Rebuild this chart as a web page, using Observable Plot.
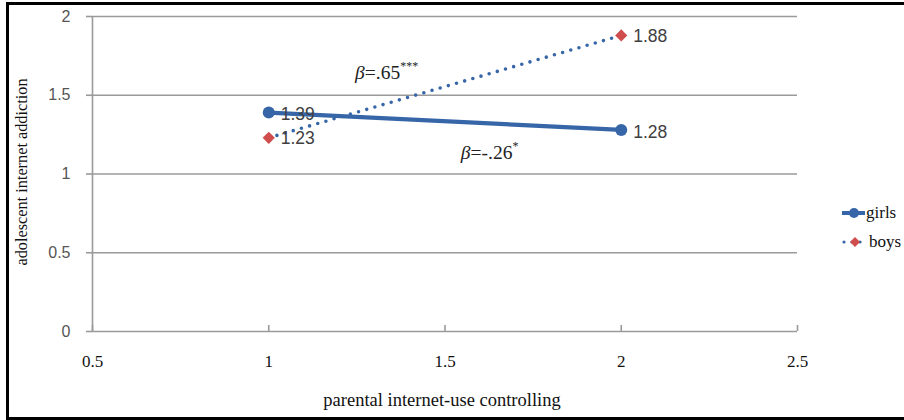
<!DOCTYPE html>
<html>
<head>
<meta charset="utf-8">
<script src="https://cdn.jsdelivr.net/npm/d3@7"></script>
<script src="https://cdn.jsdelivr.net/npm/@observablehq/plot@0.6"></script>
<style>
  html, body { margin: 0; padding: 0; background: #fff; }
  #wrap { position: relative; width: 904px; height: 420px; overflow: hidden; }
  #frame { position: absolute; left: 6px; top: 2px; width: 950px; height: 412px;
           border-left: 3px solid #000; border-top: 3px solid #000; border-bottom: 3px solid #000; }
  #chart { position: absolute; left: 0; top: 0; }
  .ytitle { position: absolute; left: 22px; top: 172px; transform: translate(-50%, -50%) rotate(-90deg);
            font-family: "Liberation Serif", serif; font-size: 16.3px; color: #111; white-space: nowrap; }
  .xtitle { position: absolute; left: 442px; top: 400px; transform: translate(-50%, -50%);
            font-family: "Liberation Serif", serif; font-size: 18.5px; color: #111; white-space: nowrap; }
  #legend { position: absolute; left: 840px; top: 198px; font-family: "Liberation Serif", serif; font-size: 17px; color: #111; }
  #legend .row { display: flex; align-items: center; height: 29px; }
</style>
</head>
<body>
<div id="wrap">
  <div id="frame"></div>
  <div id="chart"></div>
  <div class="ytitle">adolescent internet addiction</div>
  <div class="xtitle">parental internet-use controlling</div>
  <div id="legend"></div>
</div>
<script>
// ---- data ----
const xValues = [1, 2];
const girls = [1.39, 1.28];
const boys = [1.23, 1.88];
const seriesNames = ["girls", "boys"];
const xTicks = [0.5, 1, 1.5, 2, 2.5];
const yTicks = [0, 0.5, 1, 1.5, 2];
const annoText = ["β=.65***", "β=-.26*"];
const annoX = [1.245, 1.545];
const annoY = [1.645, 1.135];

const blue = "#3766A8";
const red = "#CF4D4D";

const girlsData = xValues.map((x, i) => ({x, y: girls[i]}));
const boysData = xValues.map((x, i) => ({x, y: boys[i]}));
const annos = annoText.map((t, i) => ({t, x: annoX[i], y: annoY[i]}));

const plot = Plot.plot({
  width: 904,
  height: 420,
  marginLeft: 92,
  marginRight: 107,
  marginTop: 16,
  marginBottom: 89,
  x: {domain: [0.5, 2.5]},
  y: {domain: [0, 2]},
  style: {background: "transparent", overflow: "visible"},
  marks: [
    Plot.ruleY(yTicks, {stroke: "#9a9a9a", strokeWidth: 1.6}),
    Plot.ruleX([0.5], {stroke: "#9a9a9a", strokeWidth: 1.6}),
    Plot.axisY({ticks: yTicks, tickSize: 6, tickPadding: 16, stroke: "#9a9a9a", strokeWidth: 1.6,
      tickFormat: d => String(d), label: null, fontSize: 16, fontFamily: "Liberation Sans, Arial, sans-serif", color: "#555"}),
    Plot.axisX({ticks: xTicks, tickSize: -6, stroke: "#9a9a9a", strokeWidth: 1.6, tickFormat: () => "", label: null}),
    Plot.axisX({ticks: xTicks, tickSize: 0, tickPadding: 23, tickFormat: d => String(d), label: null,
      fontSize: 17, fontFamily: "Liberation Serif, serif", color: "#111"}),
    Plot.line(boysData, {x: "x", y: "y", stroke: blue, strokeWidth: 3.6, strokeDasharray: "0,8.5", strokeLinecap: "round"}),
    Plot.line(girlsData, {x: "x", y: "y", stroke: blue, strokeWidth: 4.2}),
    Plot.dot(girlsData, {x: "x", y: "y", r: 6, fill: blue, stroke: null}),
    Plot.dot(boysData, {x: "x", y: "y", r: 5.5, symbol: "diamond2", fill: red, stroke: null}),
    Plot.text(girlsData, {x: "x", y: "y", text: d => d.y.toFixed(2), dx: 12, dy: 2, textAnchor: "start",
      fontSize: 17.5, fontFamily: "Liberation Sans, Arial, sans-serif", fill: "#404040"}),
    Plot.text(boysData, {x: "x", y: "y", text: d => d.y.toFixed(2), dx: 12, dy: 1, textAnchor: "start",
      fontSize: 17.5, fontFamily: "Liberation Sans, Arial, sans-serif", fill: "#404040"}),
    Plot.text(annos, {x: "x", y: "y", text: "t", textAnchor: "start", fontSize: 19.5,
      fontFamily: "Liberation Serif, serif", fill: "#222", className: "anno"})
  ]
});
document.getElementById("chart").appendChild(plot);

// Style annotation text: italic beta, superscript stars
d3.select(plot).selectAll(".anno text").each(function() {
  const el = d3.select(this);
  const s = el.text();
  const m = s.match(/^(β)(=[^*]*)(\**)$/);
  if (!m) return;
  el.text("");
  el.append("tspan").attr("font-style", "italic").text(m[1]);
  el.append("tspan").text(m[2]);
  el.append("tspan").attr("font-size", 12).attr("dy", -9).text(m[3]);
});

// Legend
const legend = d3.select("#legend");
seriesNames.forEach((name, i) => {
  const row = legend.append("div").attr("class", "row");
  const svg = row.append("svg").attr("width", 26).attr("height", 14);
  if (i === 0) {
    svg.append("line").attr("x1", 2).attr("x2", 25).attr("y1", 7).attr("y2", 7).attr("stroke", blue).attr("stroke-width", 4);
    svg.append("circle").attr("cx", 14).attr("cy", 7).attr("r", 5).attr("fill", blue);
  } else {
    svg.append("line").attr("x1", 4).attr("x2", 24).attr("y1", 7).attr("y2", 7).attr("stroke", blue)
      .attr("stroke-width", 3.2).attr("stroke-dasharray", "0,8").attr("stroke-linecap", "round");
    svg.append("path").attr("d", "M15,2L20,7L15,12L10,7Z").attr("fill", red);
  }
  row.append("span").style("margin-left", i === 0 ? "0px" : "3px").text(name);
});
</script>
</body>
</html>
